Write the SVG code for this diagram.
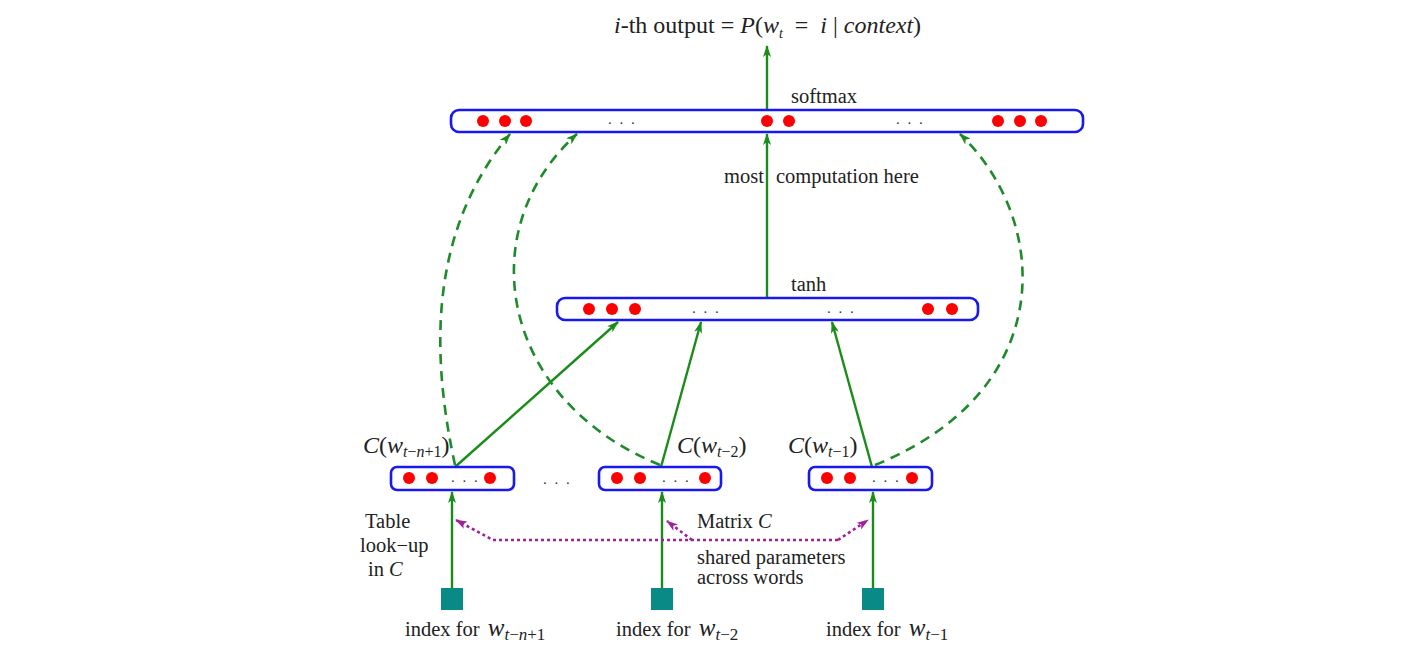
<svg xmlns="http://www.w3.org/2000/svg" width="1406" height="646" viewBox="0 0 1406 646">
<defs>
<style>
.t{font-family:"Liberation Serif",serif;font-size:20.5px;fill:#222}
.i{font-style:italic}
.bar{fill:#fff;stroke:#1818f0;stroke-width:2.6}
.dot{fill:#ff0000}
.ell{font-family:"Liberation Serif",serif;font-size:15px;fill:#333;letter-spacing:2px}
.g{stroke:#1a8c1a;stroke-width:2.4;fill:none}
.gd{stroke:#1f8a2a;stroke-width:2.6;fill:none;stroke-dasharray:10 7}
.pp{stroke:#a0209a;stroke-width:2.6;fill:none;stroke-dasharray:3 3}
.sq{fill:#0a8a86}
</style>
<marker id="ag" viewBox="0 0 12 8" refX="11" refY="4" markerWidth="12" markerHeight="8" markerUnits="userSpaceOnUse" orient="auto"><path d="M0,0 L12,4 L0,8 L3,4 Z" fill="#1a8c1a"/></marker>
<marker id="ap" viewBox="0 0 12 8" refX="11" refY="4" markerWidth="12" markerHeight="8" markerUnits="userSpaceOnUse" orient="auto"><path d="M0,0 L12,4 L0,8 L3,4 Z" fill="#a0209a"/></marker>
</defs>
<rect width="1406" height="646" fill="#fff"/>

<g id="title">
<text class="t" x="614" y="33" style="font-size:24px"><tspan class="i">i</tspan>-th output = <tspan class="i">P</tspan>(<tspan class="i">w</tspan><tspan class="i" font-size="14" dy="5">t</tspan><tspan dy="-5" xml:space="preserve">  =  </tspan><tspan class="i">i</tspan> | <tspan class="i">context</tspan>)</text>
</g>

<g id="connectors">
<line class="g" x1="767" y1="110" x2="767" y2="46" marker-end="url(#ag)"/>
<line class="g" x1="767" y1="298" x2="767" y2="134" marker-end="url(#ag)"/>
<line class="g" x1="455" y1="467" x2="618" y2="322" marker-end="url(#ag)"/>
<line class="g" x1="661" y1="467" x2="701" y2="322" marker-end="url(#ag)"/>
<line class="g" x1="872" y1="467" x2="832" y2="322" marker-end="url(#ag)"/>
<path class="gd" d="M455,465 C430,350 430,230 510,134" marker-end="url(#ag)"/>
<path class="gd" d="M660,465 C500,400 470,230 577,134" marker-end="url(#ag)"/>
<path class="gd" d="M875,465 C1060,390 1050,220 960,134" marker-end="url(#ag)"/>
<line class="g" x1="452" y1="588" x2="452" y2="492" marker-end="url(#ag)"/>
<line class="g" x1="662" y1="588" x2="662" y2="492" marker-end="url(#ag)"/>
<line class="g" x1="873" y1="588" x2="873" y2="492" marker-end="url(#ag)"/>
<path class="pp" d="M838,540 L493,540 L456,520" marker-end="url(#ap)"/>
<path class="pp" d="M838,540 L868,520" marker-end="url(#ap)"/>
<path class="pp" d="M692,540 L667,521" marker-end="url(#ap)"/>
</g>

<g id="softmax">
<rect class="bar" x="451" y="110" width="632" height="22" rx="8"/>
<circle class="dot" cx="483" cy="121" r="6"/><circle class="dot" cx="505" cy="121" r="6"/><circle class="dot" cx="526" cy="121" r="6"/>
<circle class="dot" cx="767" cy="121" r="6"/><circle class="dot" cx="789" cy="121" r="6"/>
<circle class="dot" cx="998" cy="121" r="6"/><circle class="dot" cx="1020" cy="121" r="6"/><circle class="dot" cx="1041" cy="121" r="6"/>
<text class="ell" x="608" y="124">. . .</text>
<text class="ell" x="896" y="124">. . .</text>
<text class="t" x="791" y="103">softmax</text>
</g>

<g id="label-most">
<text class="t" x="724" y="183">most</text>
<text class="t" x="776" y="183">computation here</text>
</g>

<g id="tanh">
<rect class="bar" x="557" y="298" width="421" height="22" rx="8"/>
<circle class="dot" cx="589" cy="309" r="6"/><circle class="dot" cx="612" cy="309" r="6"/><circle class="dot" cx="635" cy="309" r="6"/>
<circle class="dot" cx="928" cy="309" r="6"/><circle class="dot" cx="952" cy="309" r="6"/>
<text class="ell" x="692" y="313">. . .</text>
<text class="ell" x="827" y="313">. . .</text>
<text class="t" x="791" y="291">tanh</text>
</g>

<g id="c1">
<rect class="bar" x="391" y="467" width="123" height="23" rx="6"/>
<circle class="dot" cx="409" cy="478" r="6"/><circle class="dot" cx="432" cy="478" r="6"/><circle class="dot" cx="490" cy="478" r="6"/>
<text class="ell" x="451" y="482">. . .</text>
<text class="t" x="363" y="453" style="font-size:24px"><tspan class="i">C</tspan>(<tspan class="i">w</tspan><tspan class="i" font-size="16" dy="4">t</tspan><tspan font-size="16">−</tspan><tspan class="i" font-size="16">n</tspan><tspan font-size="16">+1</tspan><tspan dy="-4">)</tspan></text>
</g>

<g id="c2">
<rect class="bar" x="599" y="467" width="122" height="23" rx="6"/>
<circle class="dot" cx="617" cy="478" r="6"/><circle class="dot" cx="640" cy="478" r="6"/><circle class="dot" cx="705" cy="478" r="6"/>
<text class="ell" x="662" y="482">. . .</text>
<text class="t" x="677" y="453" style="font-size:24px"><tspan class="i">C</tspan>(<tspan class="i">w</tspan><tspan class="i" font-size="16" dy="4">t</tspan><tspan font-size="16">−2</tspan><tspan dy="-4">)</tspan></text>
</g>

<g id="c3">
<rect class="bar" x="809" y="467" width="123" height="23" rx="6"/>
<circle class="dot" cx="827" cy="478" r="6"/><circle class="dot" cx="850" cy="478" r="6"/><circle class="dot" cx="912" cy="478" r="6"/>
<text class="ell" x="872" y="482">. . .</text>
<text class="t" x="788" y="453" style="font-size:24px"><tspan class="i">C</tspan>(<tspan class="i">w</tspan><tspan class="i" font-size="16" dy="4">t</tspan><tspan font-size="16">−1</tspan><tspan dy="-4">)</tspan></text>
</g>

<g id="gap-dots"><text class="ell" x="543" y="484">. . .</text></g>

<g id="idx1">
<rect class="sq" x="441" y="588" width="22" height="22"/>
<text class="t" x="405" y="636">index for <tspan class="i" font-size="25" dx="3">w</tspan><tspan class="i" font-size="17" dy="4">t</tspan><tspan font-size="17">−</tspan><tspan class="i" font-size="17">n</tspan><tspan font-size="17">+1</tspan></text>
</g>
<g id="idx2">
<rect class="sq" x="651" y="588" width="22" height="22"/>
<text class="t" x="616" y="636">index for <tspan class="i" font-size="25" dx="3">w</tspan><tspan class="i" font-size="17" dy="4">t</tspan><tspan font-size="17">−2</tspan></text>
</g>
<g id="idx3">
<rect class="sq" x="862" y="588" width="22" height="22"/>
<text class="t" x="826" y="636">index for <tspan class="i" font-size="25" dx="3">w</tspan><tspan class="i" font-size="17" dy="4">t</tspan><tspan font-size="17">−1</tspan></text>
</g>

<g id="labels">
<text class="t" x="365" y="528">Table</text>
<text class="t" x="360" y="552">look−up</text>
<text class="t" x="368" y="576">in <tspan class="i">C</tspan></text>
<text class="t" x="697" y="528">Matrix <tspan class="i">C</tspan></text>
<text class="t" x="697" y="564">shared parameters</text>
<text class="t" x="697" y="584">across words</text>
</g>
</svg>
